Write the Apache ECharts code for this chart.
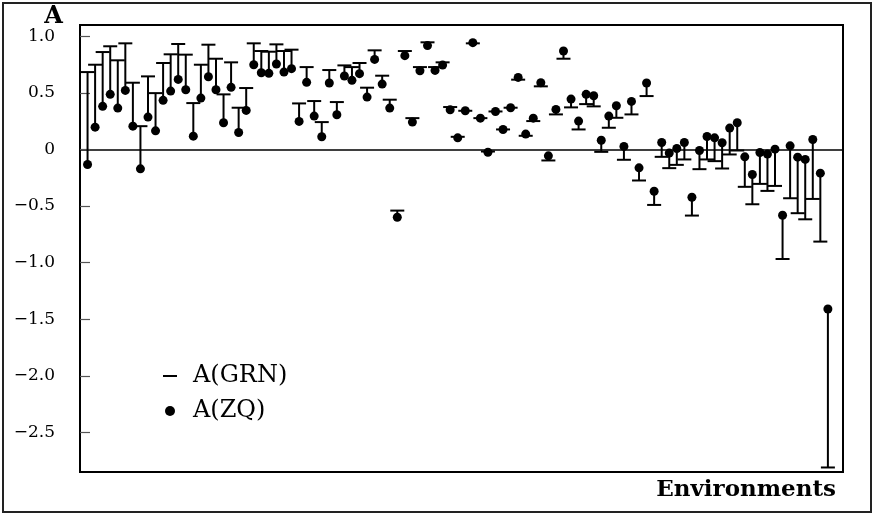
<!DOCTYPE html>
<html>
<head>
<meta charset="utf-8">
<script src="https://cdn.jsdelivr.net/npm/echarts@6/dist/echarts.min.js"></script>
<style>html,body{margin:0;padding:0;background:#fff}#c{width:874px;height:515px}</style>
</head>
<body>
<div id="c"></div>
<script>
// A(GRN) values per environment (dash markers)
const grn = [0.684,0.749,0.861,0.912,0.788,0.938,0.590,0.206,0.646,0.498,
0.764,0.841,0.932,0.838,0.410,0.749,0.926,0.802,0.487,0.770,
0.369,0.543,0.938,0.870,0.864,0.929,0.870,0.882,0.407,0.728,
0.428,0.242,0.702,0.419,0.743,0.728,0.764,0.546,0.876,0.652,
0.440,-0.540,0.870,0.277,0.728,0.947,0.728,0.770,0.375,0.112,
0.342,0.938,0.277,-0.018,0.336,0.177,0.369,0.617,0.121,0.251,
0.558,-0.097,0.310,0.802,0.372,0.177,0.401,0.381,-0.021,0.192,
0.280,-0.091,0.310,-0.274,0.472,-0.490,-0.065,-0.165,-0.136,-0.088,
-0.584,-0.174,-0.088,-0.103,-0.168,-0.044,-0.009,-0.330,-0.484,-0.304,
-0.366,-0.322,-0.968,-0.431,-0.563,-0.617,-0.437,-0.814,-2.81];
// A(ZQ) values per environment (dot markers)
const zq = [-0.133,0.197,0.381,0.487,0.366,0.522,0.206,-0.171,0.286,0.165,
0.434,0.516,0.619,0.528,0.118,0.454,0.643,0.528,0.236,0.549,
0.150,0.345,0.749,0.678,0.673,0.755,0.684,0.714,0.248,0.593,
0.295,0.112,0.587,0.307,0.649,0.611,0.670,0.463,0.796,0.578,
0.366,-0.599,0.829,0.242,0.696,0.918,0.699,0.746,0.351,0.103,
0.342,0.944,0.277,-0.024,0.336,0.177,0.369,0.637,0.136,0.277,
0.590,-0.056,0.354,0.870,0.445,0.251,0.487,0.475,0.082,0.295,
0.386,0.027,0.425,-0.162,0.587,-0.369,0.062,-0.032,0.009,0.062,
-0.422,-0.009,0.115,0.103,0.059,0.189,0.236,-0.065,-0.221,-0.027,
-0.041,0.003,-0.581,0.032,-0.068,-0.088,0.088,-0.209,-1.41];
const environments = grn.map((_, i) => i + 1);
const yTicks = [1.0, 0.5, 0, -0.5, -1.0, -1.5, -2.0, -2.5];
const yTickLabels = ['1.0', '0.5', '0', '\u22120.5', '\u22121.0', '\u22121.5', '\u22122.0', '\u22122.5'];

const FONT = '"DejaVu Serif", serif';
const chart = echarts.init(document.getElementById('c'), null, {renderer: 'canvas'});
const grnData = environments.map((e, i) => [e, grn[i]]);
const zqData = environments.map((e, i) => [e, zq[i]]);
const stemData = environments.map((e, i) => [e, zq[i], grn[i]]);

chart.setOption({
  animation: false,
  backgroundColor: '#fff',
  grid: {left: 80, top: 25, right: 31, bottom: 43, show: true, borderColor: '#000', borderWidth: 2, backgroundColor: 'transparent'},
  xAxis: {
    type: 'value', min: 0, max: 101,
    axisLine: {show: true, onZero: true, lineStyle: {color: '#000', width: 1.5}},
    axisTick: {show: false}, axisLabel: {show: false}, splitLine: {show: false}
  },
  yAxis: {
    type: 'value', min: -2.85, max: 1.1,
    axisLine: {show: false},
    axisTick: {show: true, inside: true, length: 10, customValues: yTicks, lineStyle: {color: '#555', width: 1.2}},
    axisLabel: {
      show: true, margin: 25, customValues: yTicks, color: '#000',
      fontFamily: FONT, fontSize: 17,
      formatter: function (v) {
        const idx = yTicks.findIndex(t => Math.abs(t - v) < 1e-6);
        return idx >= 0 ? yTickLabels[idx] : '';
      }
    },
    splitLine: {show: false}
  },
  legend: [
    {data: ['A(GRN)'], left: 163, top: 363, padding: 0, icon: 'rect', itemWidth: 14, itemHeight: 2,
     itemStyle: {color: '#000', opacity: 1},
     textStyle: {fontFamily: FONT, fontSize: 24, color: '#000', padding: [0, 0, 0, 11], lineHeight: 26}},
    {data: ['A(ZQ)'], left: 165, top: 398, padding: 0, icon: 'circle', itemWidth: 10, itemHeight: 10,
     itemStyle: {color: '#000', opacity: 1},
     textStyle: {fontFamily: FONT, fontSize: 24, color: '#000', padding: [0, 0, 0, 13], lineHeight: 26}}
  ],
  graphic: [
    {type: 'rect', z: -10, shape: {x: 3, y: 3, width: 868, height: 509}, style: {fill: 'none', stroke: '#222', lineWidth: 2}},
    {type: 'text', x: 53.5, y: 17, style: {text: 'A', font: 'bold 24px ' + FONT, fill: '#000', textAlign: 'center', textVerticalAlign: 'middle'}},
    {type: 'text', x: 836, y: 490, style: {text: 'Environments', font: 'bold 23px ' + FONT, fill: '#000', textAlign: 'right', textVerticalAlign: 'middle'}}
  ],
  series: [
    {
      type: 'custom', name: 'stem', data: stemData, silent: true, z: 1,
      renderItem: function (params, api) {
        const p1 = api.coord([api.value(0), api.value(1)]);
        const p2 = api.coord([api.value(0), api.value(2)]);
        return {type: 'line', shape: {x1: p1[0], y1: p1[1], x2: p2[0], y2: p2[1]}, style: {stroke: '#000', lineWidth: 2}};
      }
    },
    {type: 'scatter', name: 'A(GRN)', data: grnData, symbol: 'rect', symbolSize: [14, 2], itemStyle: {color: '#000', opacity: 1}, z: 2},
    {type: 'scatter', name: 'A(ZQ)', data: zqData, symbol: 'circle', symbolSize: 9, itemStyle: {color: '#000', opacity: 1}, z: 3}
  ]
});
</script>
</body>
</html>
